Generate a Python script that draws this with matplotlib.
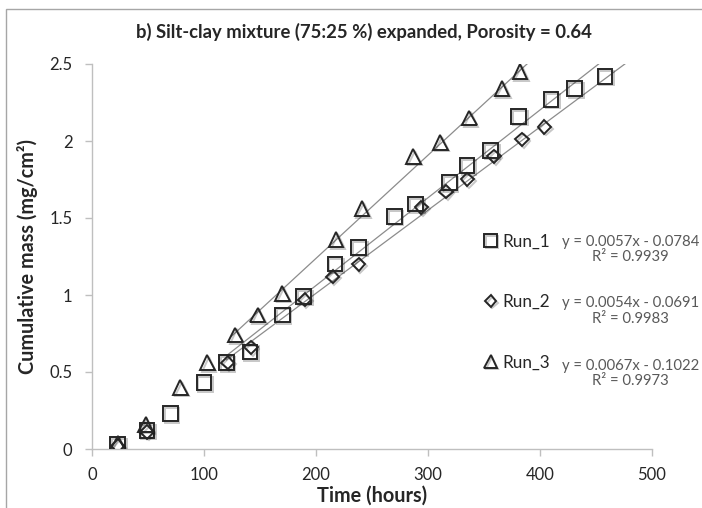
import matplotlib
matplotlib.use("Agg")
import matplotlib.pyplot as plt
import matplotlib.patheffects as pe
from matplotlib.patches import Rectangle
import numpy as np

plt.rcParams['font.family'] = ['Lato', 'DejaVu Sans']

# ---------------- data ----------------
run1_t = [23, 49, 70, 100, 120, 141, 170, 189, 217, 238, 270, 289, 319, 335, 356, 381, 410, 431, 458]
run1_m = [0.03, 0.12, 0.23, 0.43, 0.56, 0.63, 0.87, 0.99, 1.20, 1.31, 1.51, 1.59, 1.73, 1.84, 1.94, 2.16, 2.27, 2.34, 2.42]

run2_t = [23, 49, 121, 142, 190, 215, 238, 294, 316, 335, 359, 384, 404]
run2_m = [0.02, 0.11, 0.56, 0.66, 0.97, 1.12, 1.20, 1.57, 1.67, 1.75, 1.90, 2.01, 2.09]

run3_t = [23, 48, 79, 103, 128, 148, 170, 218, 241, 287, 311, 337, 366, 382]
run3_m = [0.04, 0.16, 0.40, 0.56, 0.74, 0.87, 1.01, 1.36, 1.56, 1.90, 1.99, 2.15, 2.34, 2.45]

series_names = ["Run_1", "Run_2", "Run_3"]
slopes = [0.0057, 0.0054, 0.0067]
intercepts = [-0.0784, -0.0691, -0.1022]
r_squared = [0.9939, 0.9983, 0.9973]
trend_start = [120, 120, 124]
trend_end = 500

title = "b) Silt-clay mixture (75:25 %) expanded, Porosity = 0.64"
xlabel = "Time (hours)"
ylabel = "Cumulative mass (mg/cm²)"
xticks = [0, 100, 200, 300, 400, 500]
yticks = [0, 0.5, 1, 1.5, 2, 2.5]
ytick_labels = ["0", "0.5", "1", "1.5", "2", "2.5"]

# ---------------- figure ----------------
W, H = 702, 508
fig = plt.figure(figsize=(W / 100, H / 100), dpi=100)
ax = fig.add_axes([92 / W, 1 - 449 / H, (652 - 92) / W, (449 - 64) / H])

# outer chart border
fig.patches.append(Rectangle((6 / W, -0.1), 1.2, 1 - 9 / H + 0.1, transform=fig.transFigure,
                             fill=False, edgecolor='#a6a6a6', linewidth=1.0, zorder=0))

ts = [run1_t, run2_t, run3_t]
ms = [run1_m, run2_m, run3_m]
markers = ['s', 'D', '^']
msizes = [10.5, 6.8, 10.5]
edge = '#262626'
shadow = [pe.SimpleLineShadow(offset=(1.2, -1.2), shadow_color='k', alpha=0.22), pe.Normal()]
handles = []
for i in range(3):
    h, = ax.plot(ts[i], ms[i], linestyle='none', marker=markers[i], markersize=msizes[i],
                 markerfacecolor='none', markeredgecolor=edge, markeredgewidth=1.4,
                 label=series_names[i], zorder=3, path_effects=shadow)
    handles.append(h)
    xt = np.array([trend_start[i], trend_end])
    ax.plot(xt, slopes[i] * xt + intercepts[i], color='#8c8c8c', linewidth=0.9, zorder=2)

ax.set_xlim(0, 500)
ax.set_ylim(0, 2.5)
ax.set_xticks(xticks)
ax.set_yticks(yticks)
ax.set_yticklabels(ytick_labels)
for s in ['top', 'right']:
    ax.spines[s].set_visible(False)
for s in ['left', 'bottom']:
    ax.spines[s].set_color('#bfbfbf')
    ax.spines[s].set_linewidth(1.0)
ax.tick_params(axis='both', colors='#bfbfbf', labelcolor='#262626', labelsize=12,
               length=5, width=1.0, direction='out')
ax.tick_params(axis='x', pad=8)
ax.tick_params(axis='y', pad=9)

ax.set_xlabel(xlabel, fontsize=14.3, fontweight='bold', color='#262626', labelpad=2)
ax.set_ylabel(ylabel, fontsize=14.3, fontweight='bold', color='#262626', labelpad=8)

fig.text(364 / W, 1 - 32 / H, title, ha='center', va='center', fontsize=13.3,
         fontweight='bold', color='#262626')

leg = fig.legend(handles=handles, loc='center left', bbox_to_anchor=(476 / W, 1 - 302 / H),
                 frameon=False, fontsize=12.3, labelspacing=2.6, handlelength=0.7,
                 handletextpad=0.35, markerscale=0.85, borderpad=0)
for txt in leg.get_texts():
    txt.set_color('#262626')

eq_mid_y = [249.5, 311, 373.5]
for i in range(3):
    sign = '-' if intercepts[i] < 0 else '+'
    s = "y = %.4fx %s %.4f\nR² = %.4f" % (slopes[i], sign, abs(intercepts[i]), r_squared[i])
    fig.text(562 / W, 1 - eq_mid_y[i] / H, s, ha='left', va='center', fontsize=10.7,
             color='#595959', multialignment='center', linespacing=1.15,
             transform=fig.transFigure)

fig.savefig("out.png", dpi=100)
